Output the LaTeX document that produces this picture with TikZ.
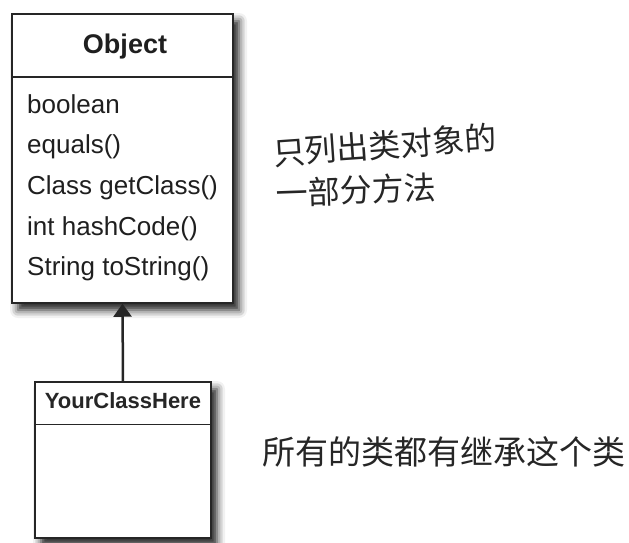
\documentclass[tikz,border=0pt]{standalone}
\usepackage{fontspec}
\setmainfont{Liberation Sans}
\newfontfamily\cjk{Noto Sans CJK SC}
\usetikzlibrary{shadows.blur,arrows.meta}
\tikzset{
  classbox/.style={draw=black!85, line width=1.5pt, fill=white, inner sep=0pt,
    blur shadow={shadow xshift=6pt, shadow yshift=-7pt, shadow blur radius=8pt, shadow opacity=90}},
  divider/.style={draw=black!85, line width=1.5pt},
  member/.style={anchor=base west, inner sep=0pt, text=black!88, font=\fontsize{26}{30}\selectfont},
  title/.style={anchor=base, inner sep=0pt, text=black!88, font=\bfseries\fontsize{27}{32}\selectfont},
  subtitle/.style={anchor=base, inner sep=0pt, text=black!85, font=\bfseries\fontsize{22}{25}\selectfont},
  note/.style={inner sep=0pt, text=black!85, font=\cjk\fontsize{32}{36}\selectfont},
  bignote/.style={note, font=\cjk\fontsize{33}{36}\selectfont},
  inherit/.style={draw=black!85, line width=2.5pt, -{Triangle[width=18pt,length=13pt]}}
}
\begin{document}
\begin{tikzpicture}[x=1pt,y=-1pt]
\useasboundingbox (0,0) rectangle (629,543);
% Object class
\node[classbox, minimum width=221pt, minimum height=289pt] (obj) at (122.5,158.5) {};
\draw[divider] ([yshift=-64pt]obj.north west) -- ([yshift=-64pt]obj.north east);
\node[title] (objt) at (125,53) {Object};
\node[member] (m1) at (27,113) {boolean};
\node[member] (m2) at (27,153) {equals()};
\node[member] (m3) at (27,194) {Class getClass()};
\node[member] (m4) at (27,235) {int hashCode()};
\node[member] (m5) at (27,275) {String toString()};
% YourClassHere
\node[classbox, minimum width=176pt, minimum height=156pt] (yc) at (123,460) {};
\draw[divider] ([yshift=-43pt]yc.north west) -- ([yshift=-43pt]yc.north east);
\node[subtitle] (yct) at (123,408) {YourClassHere};
% inheritance arrow
\draw[inherit] (yc.north) -- (obj.south);
% notes
\node[note, anchor=west, rotate=4] (n1) at (273,153) {只列出类对象的};
\node[note, anchor=west, rotate=2] (n2) at (276,193) {一部分方法};
\node[bignote, anchor=west] (n3) at (262,452) {所有的类都有继承这个类};
\end{tikzpicture}
\end{document}
